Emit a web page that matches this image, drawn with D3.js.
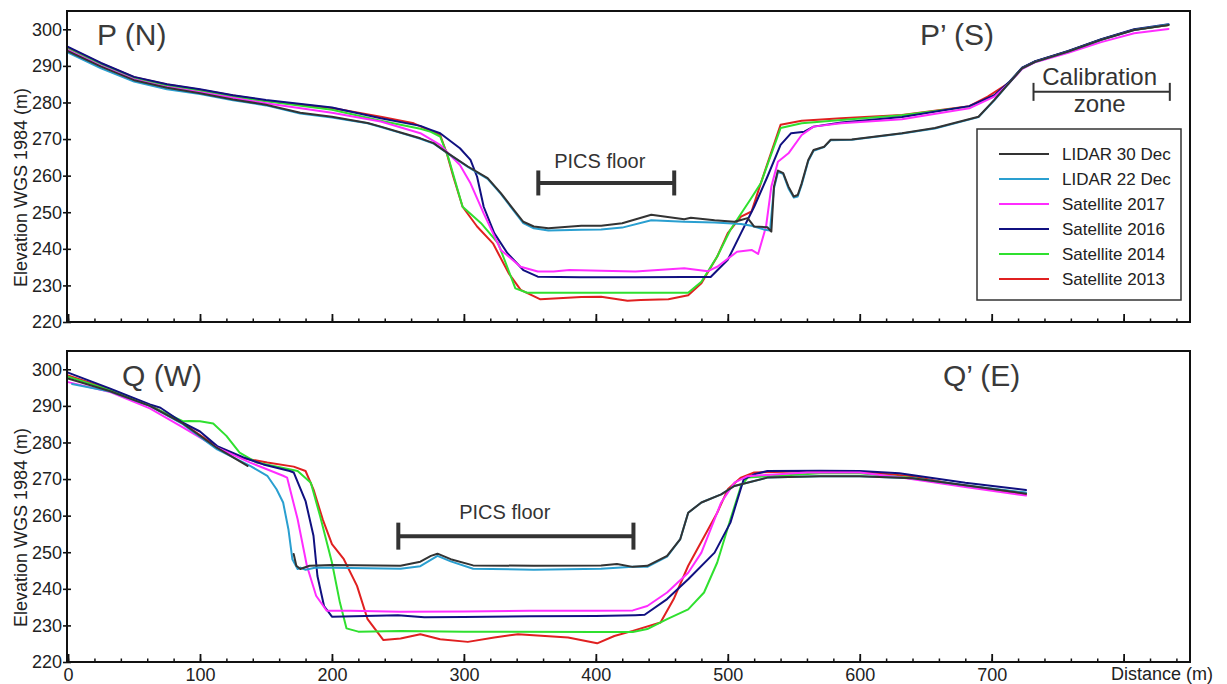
<!DOCTYPE html>
<html><head><meta charset="utf-8">
<script src="https://cdn.jsdelivr.net/npm/d3@7"></script>
<style>
body{margin:0;background:#fff;}
svg{display:block;}
text{font-family:"Liberation Sans",Arial,sans-serif;}
</style></head>
<body>
<script>
// ---------------- DATA ----------------
const seriesNames = ["LIDAR 30 Dec","LIDAR 22 Dec","Satellite 2017","Satellite 2016","Satellite 2014","Satellite 2013"];
const yTicks = [220,230,240,250,260,270,280,290,300];
const xMajorTicks = [0,100,200,300,400,500,600,700,800];
const xMinorTicks = d3.range(0, 841, 20);
const panelTitles = [["P (N)","P’ (S)"],["Q (W)","Q’ (E)"]];

// Profile P (N -> S): [distance m, elevation m]
const pLidar30 = [[0,294.0],[25,289.8],[50,286.1],[75,284.0],[100,282.5],[125,280.8],[150,279.4],[176,277.2],[200,276.1],[227,274.4],[237,273.4],[252,271.8],[267,270.2],[277,268.9],[288,266.1],[303,262.5],[318,259.3],[328,255.2],[338,250.6],[345,247.4],[353,246.1],[364,245.6],[389,246.3],[404,246.3],[420,247.0],[442,249.3],[467,248.1],[472,248.5],[490,247.8],[505,247.4],[510,247.9],[515,248.4],[518,247.0],[520,246.1],[530,245.9],[533,244.7],[535,257.0],[538,261.4],[542,260.7],[546,257.0],[550,254.3],[553,254.7],[556,257.9],[561,264.3],[565,267.0],[573,267.9],[578,269.8],[594,269.9],[632,271.6],[657,273.0],[690,276.1],[702,280.7],[713,285.2],[723,289.3],[733,291.1],[758,293.9],[783,297.1],[808,299.8],[834,301.2]];
const pLidar22 = [[0,293.6],[25,289.3],[50,285.7],[75,283.6],[100,282.3],[125,280.6],[150,279.2],[176,277.0],[200,275.9],[227,274.3],[237,273.3],[252,271.7],[267,270.1],[277,268.8],[288,266.0],[303,262.4],[318,259.1],[328,255.0],[338,250.3],[345,247.0],[353,245.6],[364,245.0],[389,245.2],[404,245.3],[420,245.8],[442,247.8],[467,247.4],[490,247.2],[510,246.8],[518,246.3],[528,245.2],[532,245.0],[535,256.5],[538,261.0],[542,260.5],[546,256.5],[550,254.0],[553,254.3],[556,257.5],[561,264.0],[565,266.8],[573,267.8],[578,269.7],[594,269.8],[632,271.5],[657,272.9],[690,276.0],[702,280.6],[713,285.2],[723,289.3],[733,291.1],[758,293.9],[783,297.1],[808,299.8],[834,301.3]];
const pSat2017 = [[0,294.3],[25,290.0],[50,286.3],[75,284.2],[100,282.8],[125,281.2],[150,279.8],[200,277.2],[237,274.8],[267,271.6],[282,268.4],[297,262.9],[305,257.9],[315,249.7],[328,239.7],[343,235.1],[356,233.8],[368,233.8],[380,234.2],[404,234.0],[430,233.8],[467,234.7],[485,233.9],[492,235.1],[507,239.2],[518,239.7],[523,238.6],[529,246.1],[533,257.0],[538,263.8],[546,266.1],[556,271.1],[565,273.4],[586,274.3],[615,275.0],[632,275.4],[683,278.4],[702,281.6],[713,285.2],[723,289.1],[733,291.0],[758,293.6],[783,296.5],[808,298.9],[834,300.1]];
const pSat2016 = [[0,295.2],[25,290.8],[50,287.0],[75,285.0],[100,283.6],[125,282.0],[150,280.7],[200,278.6],[237,275.7],[267,273.6],[275,272.5],[282,271.6],[297,267.5],[305,264.3],[310,259.7],[315,251.5],[323,244.3],[333,238.8],[345,234.2],[356,232.4],[388,232.2],[430,232.2],[467,232.3],[487,232.3],[500,237.0],[510,244.3],[520,251.5],[530,259.7],[540,268.4],[548,271.6],[558,272.0],[565,273.4],[586,274.5],[632,276.0],[683,279.0],[702,282.0],[713,285.5],[723,289.5],[733,291.3],[758,294.1],[783,297.3],[808,300.0],[834,301.4]];
const pSat2014 = [[0,294.6],[25,290.4],[50,286.6],[75,284.6],[100,283.2],[125,281.6],[150,280.3],[200,278.0],[237,275.0],[267,272.8],[275,272.0],[282,270.7],[288,265.2],[299,251.5],[313,247.0],[326,241.5],[339,229.2],[348,228.0],[404,228.0],[470,228.0],[480,231.0],[492,237.9],[502,245.2],[517,253.4],[525,257.9],[540,273.0],[556,274.3],[586,275.2],[632,276.5],[683,278.8],[702,281.8],[713,285.4],[723,289.4],[733,291.2],[758,294.0],[783,297.2],[808,299.9],[834,301.2]];
const pSat2013 = [[0,295.0],[25,290.7],[50,286.9],[75,284.9],[100,283.5],[125,281.9],[150,280.5],[200,278.5],[237,276.1],[262,274.3],[282,271.1],[287,266.1],[292,259.7],[299,251.5],[310,246.1],[322,241.5],[334,233.3],[343,228.8],[358,226.2],[389,226.8],[404,226.9],[424,225.8],[434,226.0],[455,226.2],[470,227.3],[480,230.6],[492,237.9],[500,244.3],[510,248.8],[518,250.2],[525,257.9],[540,273.9],[556,275.0],[586,275.7],[632,276.6],[683,279.0],[697,281.6],[707,283.9],[713,285.3],[723,289.4],[733,291.2],[758,294.0],[783,297.2],[808,299.9],[834,301.2]];

// Profile Q (W -> E)
const qLidar30 = [[0,297.5],[32,294.0],[62,290.0],[87,285.2],[113,278.5],[136,273.6],[150,null],[171,249.5],[173,246.3],[176,245.4],[183,246.3],[200,246.5],[252,246.3],[267,247.4],[275,249.0],[280,249.6],[290,248.1],[307,246.4],[353,246.3],[404,246.4],[416,246.8],[428,246.0],[439,246.3],[454,249.0],[464,253.6],[470,260.8],[480,263.6],[495,265.8],[505,268.1],[530,270.4],[570,270.8],[600,270.8],[640,270.2],[680,268.3],[726,266.0]];
const qLidar22 = [[3,296.0],[32,293.9],[62,290.0],[87,285.0],[113,278.1],[138,273.6],[151,270.9],[158,267.2],[163,263.6],[167,256.3],[170,248.1],[174,245.4],[176,245.8],[180,245.2],[188,245.8],[252,245.5],[267,246.2],[280,249.0],[290,247.5],[307,245.5],[353,245.2],[404,245.5],[428,246.0],[439,246.0],[454,248.8],[464,253.6],[470,260.8],[480,263.6],[495,265.8],[505,268.1],[530,270.4],[570,270.8],[600,270.8],[640,270.2],[680,268.3],[726,266.3]];
const qSat2017 = [[0,296.5],[32,293.8],[62,289.3],[87,284.1],[113,278.6],[138,274.5],[163,270.9],[166,270.4],[174,259.0],[181,246.3],[188,238.1],[196,234.0],[214,234.0],[252,233.7],[300,233.8],[350,234.0],[400,234.0],[428,234.1],[439,235.3],[454,239.0],[470,244.4],[480,249.9],[495,263.6],[505,269.0],[515,270.8],[560,271.8],[600,271.8],[630,270.5],[680,267.8],[726,265.5]];
const qSat2016 = [[0,299.1],[32,294.7],[62,290.4],[70,289.5],[87,285.4],[100,283.0],[113,279.0],[133,275.9],[148,274.0],[168,272.2],[171,271.8],[180,264.0],[186,254.5],[189,243.5],[194,235.3],[200,232.4],[250,232.8],[270,232.2],[300,232.3],[350,232.5],[400,232.6],[430,232.8],[437,232.9],[454,237.2],[470,242.6],[490,249.9],[502,258.1],[512,269.9],[520,271.3],[530,272.2],[570,272.3],[600,272.2],[630,271.6],[680,269.0],[726,267.0]];
const qSat2014 = [[0,298.0],[32,294.3],[62,290.0],[87,285.8],[92,285.9],[100,285.8],[110,285.2],[120,281.8],[130,277.2],[143,274.5],[174,272.2],[184,269.0],[191,259.9],[200,247.2],[206,236.3],[211,229.2],[220,228.3],[252,228.5],[300,228.3],[400,228.2],[428,228.2],[439,229.0],[454,231.7],[470,234.4],[482,239.0],[492,247.2],[502,259.0],[510,268.1],[515,270.4],[570,271.6],[600,271.6],[640,270.3],[680,268.2],[726,266.2]];
const qSat2013 = [[0,298.3],[32,294.5],[62,290.2],[87,285.2],[113,278.8],[133,275.7],[151,274.5],[171,273.4],[180,272.2],[186,267.2],[193,259.0],[200,252.2],[209,248.1],[219,240.8],[227,231.7],[239,226.0],[252,226.4],[267,227.6],[282,226.2],[303,225.5],[323,226.7],[341,227.6],[379,226.7],[401,225.1],[414,227.1],[428,228.5],[449,230.8],[459,237.2],[470,246.3],[492,260.8],[500,267.2],[510,270.4],[520,271.8],[570,272.2],[600,272.0],[640,270.8],[680,268.0],[726,265.8]];

// Annotations (data units)
const pPicsFloor = [356.4, 459.4, 258.0], pPicsLabelX = 403;
const qPicsFloor = [250.3, 428.5, 254.4], qPicsLabelX = 331;
const calibrationZone = [731.7, 835.0, 282.9];

// ---------------- STYLE ----------------
const colors = ["#333333","#2a9fd0","#ff2cff","#101080","#2fe02f","#e02020"];
const drawOrder = [5,4,3,2,1,0];

const W = 1227, H = 684;
const svg = d3.select("body").append("svg").attr("width", W).attr("height", H);
const x = d3.scaleLinear().domain([-0.8, 850.3]).range([67, 1190]);
const panels = [
  {top: 11, bottom: 322, data: [pLidar30,pLidar22,pSat2017,pSat2016,pSat2014,pSat2013], labels: false, pics: pPicsFloor, picsX: pPicsLabelX},
  {top: 351, bottom: 662, data: [qLidar30,qLidar22,qSat2017,qSat2016,qSat2014,qSat2013], labels: true, pics: qPicsFloor, picsX: qPicsLabelX}
];

panels.forEach((p, pi) => {
  const y = d3.scaleLinear().domain([220, 305]).range([p.bottom, p.top]);
  const g = svg.append("g");

  // minor x ticks
  g.append("g").attr("transform", `translate(0,${p.bottom})`)
    .call(d3.axisBottom(x).tickValues(xMinorTicks).tickSize(-3.5).tickFormat(""))
    .call(s => { s.select(".domain").remove(); s.selectAll("line").attr("stroke","#111").attr("stroke-width",1.5); });
  // major x ticks
  const ax = g.append("g").attr("transform", `translate(0,${p.bottom})`)
    .call(d3.axisBottom(x).tickValues(xMajorTicks).tickSize(-8).tickPadding(6)
      .tickFormat(p.labels ? (d => d <= 700 ? d : "") : ""));
  ax.select(".domain").remove();
  ax.selectAll("line").attr("stroke","#111").attr("stroke-width",1.8);
  ax.selectAll("text").attr("font-size", 18).attr("fill","#222")
    .attr("font-family","Liberation Sans, Arial, sans-serif");

  // y axis
  const ay = g.append("g").attr("transform", `translate(${x.range()[0]},0)`)
    .call(d3.axisLeft(y).tickValues(yTicks).tickSizeInner(4).tickSizeOuter(0).tickPadding(1));
  ay.select(".domain").remove();
  ay.selectAll(".tick line").attr("x1", 4).attr("x2", -4).attr("stroke","#111").attr("stroke-width",1.6);
  ay.selectAll("text").attr("font-size", 18).attr("fill","#222")
    .attr("font-family","Liberation Sans, Arial, sans-serif");

  // y label
  g.append("text")
    .attr("transform", `translate(26.5,${(p.top + p.bottom) / 2 + 21}) rotate(-90)`)
    .attr("text-anchor","middle").attr("font-size",18).attr("fill","#222")
    .text("Elevation WGS 1984 (m)");

  // clip
  const clipId = "clip" + pi;
  svg.append("clipPath").attr("id", clipId).append("rect")
    .attr("x", 67).attr("y", p.top).attr("width", 1190 - 67).attr("height", p.bottom - p.top);

  const line = d3.line().defined(d => d[1] !== null).x(d => x(d[0])).y(d => y(d[1]));
  const lg = g.append("g").attr("clip-path", `url(#${clipId})`);
  drawOrder.forEach(i => {
    lg.append("path").datum(p.data[i])
      .attr("d", line).attr("fill","none")
      .attr("stroke", colors[i]).attr("stroke-width", 2)
      .attr("stroke-linejoin","round").attr("stroke-linecap","round");
  });

  // frame
  g.append("rect").attr("x", 67).attr("y", p.top).attr("width", 1190 - 67).attr("height", p.bottom - p.top)
    .attr("fill","none").attr("stroke","#111").attr("stroke-width",2);

  // titles
  g.append("text").attr("x", pi === 0 ? 97 : 122).attr("y", pi === 0 ? 45 : 386)
    .attr("font-size",30).attr("fill","#3a3a3a").text(panelTitles[pi][0]);
  g.append("text").attr("x", pi === 0 ? 920 : 943).attr("y", pi === 0 ? 45 : 386)
    .attr("font-size",30).attr("fill","#3a3a3a").text(panelTitles[pi][1]);

  // PICS floor bracket
  const [a, b, lv] = p.pics;
  const by = y(lv), cap = pi === 0 ? 12.5 : 13.5;
  const br = g.append("g").attr("stroke","#333").attr("stroke-width",4);
  br.append("line").attr("x1", x(a)).attr("x2", x(b)).attr("y1", by).attr("y2", by);
  br.append("line").attr("x1", x(a)).attr("x2", x(a)).attr("y1", by - cap).attr("y2", by + cap);
  br.append("line").attr("x1", x(b)).attr("x2", x(b)).attr("y1", by - cap).attr("y2", by + cap);
  g.append("text").attr("x", x(p.picsX)).attr("y", by - (pi === 0 ? 15 : 17))
    .attr("text-anchor","middle").attr("font-size",20).attr("fill","#333").text("PICS floor");

  if (pi === 0) {
    // calibration zone
    const [c1, c2, cv] = calibrationZone;
    const cy = y(cv);
    const cb = g.append("g").attr("stroke","#333").attr("stroke-width",2);
    cb.append("line").attr("x1", x(c1)).attr("x2", x(c2)).attr("y1", cy).attr("y2", cy);
    cb.append("line").attr("x1", x(c1)).attr("x2", x(c1)).attr("y1", cy - 9).attr("y2", cy + 9);
    cb.append("line").attr("x1", x(c2)).attr("x2", x(c2)).attr("y1", cy - 9).attr("y2", cy + 9);
    const cm = (x(c1) + x(c2)) / 2 - 2;
    g.append("text").attr("x", cm).attr("y", cy - 7).attr("text-anchor","middle")
      .attr("font-size",24).attr("fill","#333").text("Calibration");
    g.append("text").attr("x", cm).attr("y", cy + 20).attr("text-anchor","middle")
      .attr("font-size",24).attr("fill","#333").text("zone");

    // legend
    const leg = g.append("g");
    leg.append("rect").attr("x", 977).attr("y", 129).attr("width", 204).attr("height", 171)
      .attr("fill","#fff").attr("stroke","#333").attr("stroke-width",1.5);
    seriesNames.forEach((n, i) => {
      const ly = 154 + i * 25;
      leg.append("line").attr("x1", 999).attr("x2", 1049).attr("y1", ly).attr("y2", ly)
        .attr("stroke", colors[i]).attr("stroke-width", 2);
      leg.append("text").attr("x", 1062).attr("y", ly + 6).attr("font-size", 17).attr("fill","#222").text(n);
    });
  } else {
    g.append("text").attr("x", 1213).attr("y", 680).attr("text-anchor","end")
      .attr("font-size",18).attr("fill","#222").text("Distance (m)");
  }
});
</script>
</body></html>
